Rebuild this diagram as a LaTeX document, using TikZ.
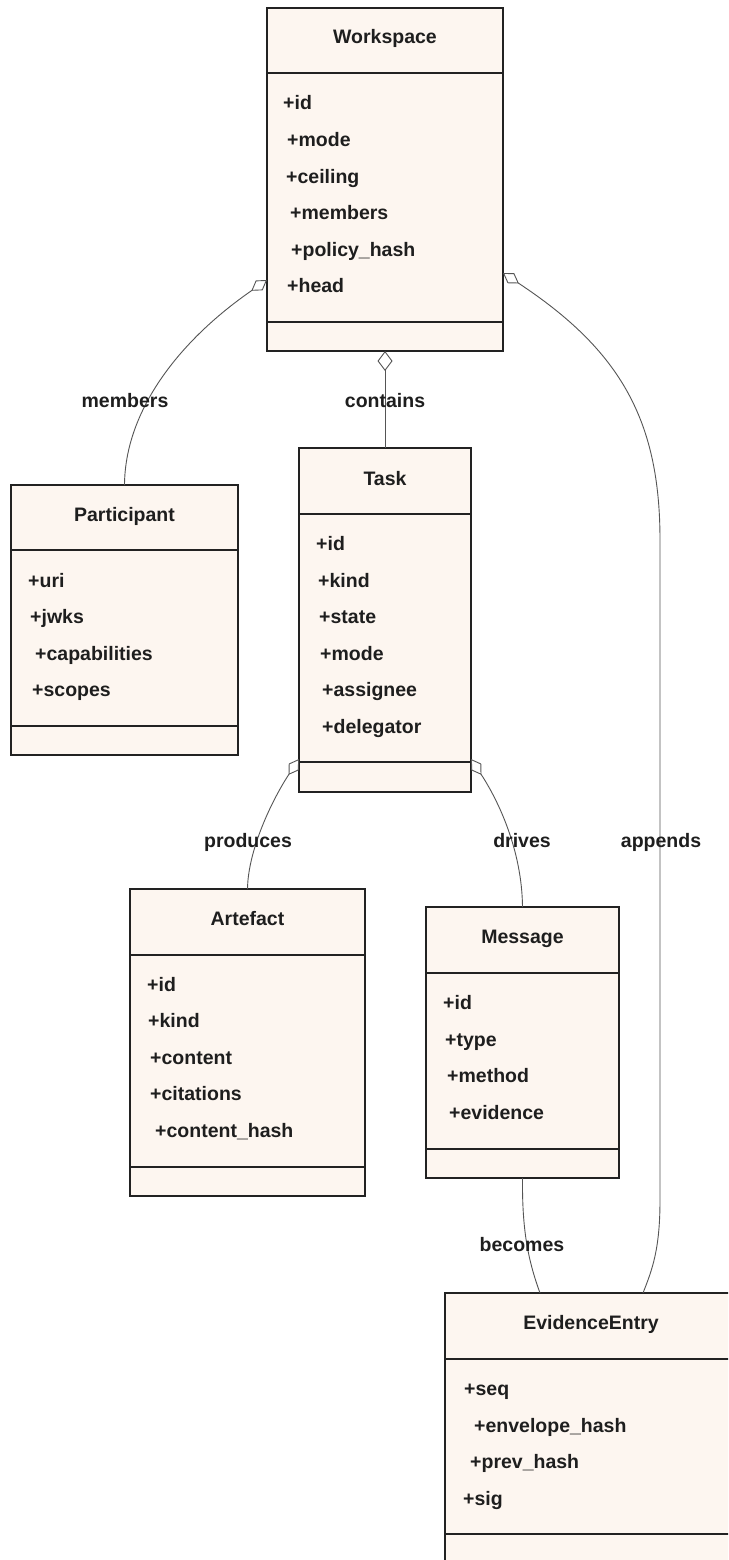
\documentclass[tikz,border=0pt]{standalone}
\usepackage{fontspec}
\setmainfont{Liberation Sans}
\usetikzlibrary{arrows.meta,calc}
\definecolor{boxfill}{RGB}{253,246,240}
\definecolor{boxline}{RGB}{34,34,34}
\definecolor{edgecol}{RGB}{85,85,85}
\definecolor{txt}{RGB}{30,30,30}
\begin{document}
\begin{tikzpicture}[x=1pt,y=-1pt,
  classbox/.style={draw=boxline,fill=boxfill,line width=1.5pt,rectangle,anchor=north west,inner sep=0pt,outer sep=0pt},
  sepline/.style={draw=boxline,line width=1.3pt},
  titletext/.style={anchor=base,inner sep=0pt,text=txt,font=\fontsize{19.5}{23}\selectfont\bfseries},
  attr/.style={anchor=base west,inner sep=0pt,text=txt,font=\fontsize{19.5}{23}\selectfont\bfseries},
  elabel/.style={anchor=base,inner sep=0pt,text=txt,font=\fontsize{19.5}{23}\selectfont\bfseries},
  assoc/.style={draw=edgecol,line width=0.9pt},
  aggr/.style={assoc,{Diamond[open,length=19pt,width=12pt]}-},
  aggrv/.style={assoc,{Diamond[open,length=20pt,width=15pt]}-}
]
\clip (0,0) rectangle (728,1560);
\fill[white] (0,0) rectangle (728,1560);

% ---------- Workspace
\node[classbox,minimum width=236pt,minimum height=343pt] (ws) at (267,8) {};
\draw[sepline] (ws.west |- 0,73) -- (ws.east |- 0,73);
\draw[sepline] (ws.west |- 0,322) -- (ws.east |- 0,322);
\node[titletext] (wst) at (385,44) {Workspace};
\node[attr] (ws1) at (283,109.5) {+id};
\node[attr] (ws2) at (287,146.5) {+mode};
\node[attr] (ws3) at (286,183.5) {+ceiling};
\node[attr] (ws4) at (290,219.5) {+members};
\node[attr] (ws5) at (291,256.5) {+policy\_hash};
\node[attr] (ws6) at (287,292.5) {+head};

% ---------- Participant
\node[classbox,minimum width=227pt,minimum height=270pt] (part) at (11,485) {};
\draw[sepline] (part.west |- 0,550) -- (part.east |- 0,550);
\draw[sepline] (part.west |- 0,726) -- (part.east |- 0,726);
\node[titletext] (partt) at (124.5,521) {Participant};
\node[attr] (p1) at (28,587.5) {+uri};
\node[attr] (p2) at (30,623.5) {+jwks};
\node[attr] (p3) at (35,660.5) {+capabilities};
\node[attr] (p4) at (32,696.5) {+scopes};

% ---------- Task
\node[classbox,minimum width=172pt,minimum height=344pt] (task) at (299,448) {};
\draw[sepline] (task.west |- 0,514) -- (task.east |- 0,514);
\draw[sepline] (task.west |- 0,762) -- (task.east |- 0,762);
\node[titletext] (taskt) at (385,485) {Task};
\node[attr] (t1) at (316,550.5) {+id};
\node[attr] (t2) at (318,587.5) {+kind};
\node[attr] (t3) at (319,623.5) {+state};
\node[attr] (t4) at (320,660.5) {+mode};
\node[attr] (t5) at (322,696.5) {+assignee};
\node[attr] (t6) at (322,733.5) {+delegator};

% ---------- Artefact
\node[classbox,minimum width=235pt,minimum height=307pt] (art) at (130,889) {};
\draw[sepline] (art.west |- 0,955) -- (art.east |- 0,955);
\draw[sepline] (art.west |- 0,1167) -- (art.east |- 0,1167);
\node[titletext] (artt) at (247.5,925) {Artefact};
\node[attr] (a1) at (147,991.5) {+id};
\node[attr] (a2) at (148,1027.5) {+kind};
\node[attr] (a3) at (150,1064.5) {+content};
\node[attr] (a4) at (150,1100.5) {+citations};
\node[attr] (a5) at (155,1137.5) {+content\_hash};

% ---------- Message
\node[classbox,minimum width=193pt,minimum height=271pt] (msg) at (426,907) {};
\draw[sepline] (msg.west |- 0,973) -- (msg.east |- 0,973);
\draw[sepline] (msg.west |- 0,1149) -- (msg.east |- 0,1149);
\node[titletext] (msgt) at (522.5,943) {Message};
\node[attr] (m1) at (443,1009.5) {+id};
\node[attr] (m2) at (445,1046.5) {+type};
\node[attr] (m3) at (447,1082.5) {+method};
\node[attr] (m4) at (449,1119.5) {+evidence};

% ---------- EvidenceEntry
\node[classbox,minimum width=292pt,minimum height=270pt] (ev) at (445,1293) {};
\draw[sepline] (ev.west |- 0,1359) -- (ev.east |- 0,1359);
\draw[sepline] (ev.west |- 0,1534) -- (ev.east |- 0,1534);
\node[titletext] (evt) at (591,1329) {EvidenceEntry};
\node[attr] (e1) at (464,1395.5) {+seq};
\node[attr] (e2) at (474,1432.5) {+envelope\_hash};
\node[attr] (e3) at (470,1468.5) {+prev\_hash};
\node[attr] (e4) at (463,1505.5) {+sig};

% ---------- connectors
\draw[aggr] ([yshift=71pt]ws.south west) .. controls (180,340) and (125,410) .. (part.north);
\draw[aggrv] (ws.south) -- (task.north);
\draw[aggr] ([yshift=78pt]ws.south east) .. controls (620,350) and (660,420) .. (660,540)
   -- (660,1200) .. controls (660,1250) and (652,1270) .. ([xshift=52pt]ev.north);
\draw[aggr] ([yshift=33pt]task.south west) .. controls (272,800) and (248,850) .. (art.north);
\draw[aggr] ([yshift=33pt]task.south east) .. controls (498,800) and (522,850) .. (msg.north);
\draw[assoc] (msg.south) .. controls (522,1230) and (528,1260) .. ([xshift=-51pt]ev.north);

% ---------- labels
\node[elabel] (l1) at (125,407) {members};
\node[elabel] (l2) at (385,407) {contains};
\node[elabel] (l3) at (248,847) {produces};
\node[elabel] (l4) at (522,847) {drives};
\node[elabel] (l5) at (661,847) {appends};
\node[elabel] (l6) at (522,1251) {becomes};
\end{tikzpicture}
\end{document}
